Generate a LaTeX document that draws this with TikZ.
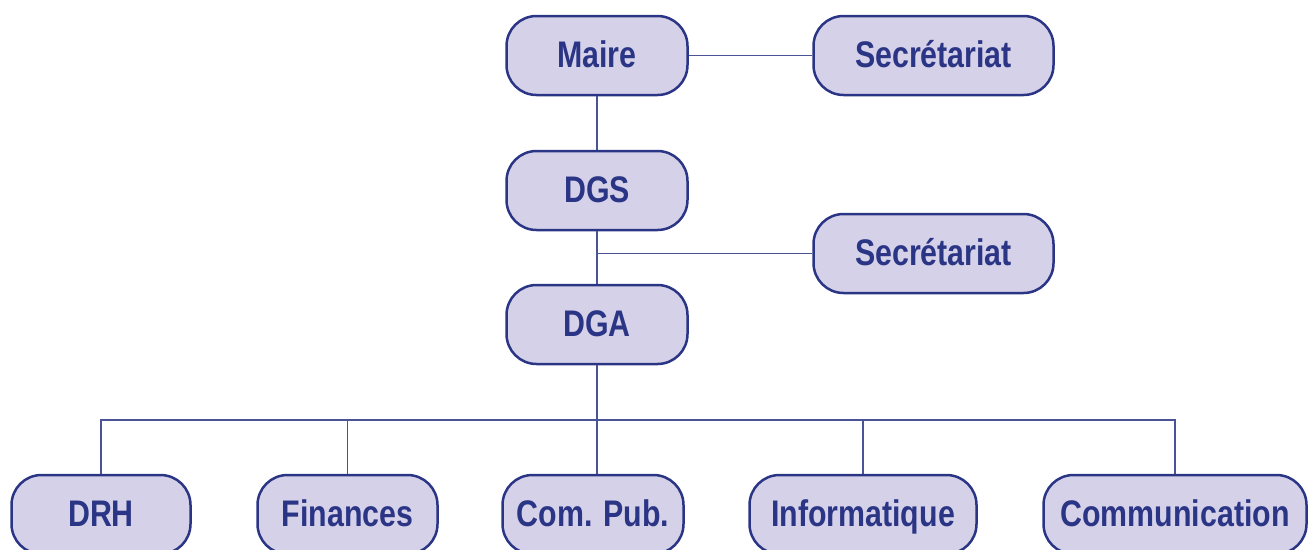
\documentclass[tikz,border=0pt]{standalone}
\usepackage{fontspec}
\setmainfont{Liberation Sans}[FakeStretch=0.82]
\definecolor{boxline}{HTML}{2B3585}
\definecolor{boxfill}{HTML}{D5D1E8}
\definecolor{linkc}{HTML}{4A5396}
\begin{document}
\begin{tikzpicture}[x=1pt,y=-1pt,
  box/.style={draw=boxline, fill=boxfill, line width=2.5pt, rounded corners=30pt,
    minimum height=79pt, inner sep=0pt, text=boxline, text height=26pt, text depth=2pt,
    font=\fontsize{37}{40}\selectfont\bfseries},
  link/.style={draw=linkc, line width=1.4pt}]
\useasboundingbox (0,0) rectangle (1314,549);
\node[box, minimum width=181pt] (maire) at (597,55.5) {Maire};
\node[box, minimum width=240pt] (sec1) at (933.5,55.5) {Secrétariat};
\node[box, minimum width=181pt] (dgs) at (597,190.5) {DGS};
\node[box, minimum width=240pt] (sec2) at (933.5,253.5) {Secrétariat};
\node[box, minimum width=181pt] (dga) at (597,324.5) {DGA};
\node[box, minimum width=179pt] (drh) at (101,514.5) {DRH};
\node[box, minimum width=180pt] (fin) at (347.5,514.5) {Finances};
\node[box, minimum width=181pt] (compub) at (593,514.5) {Com. Pub.};
\node[box, minimum width=227pt] (info) at (863,514.5) {Informatique};
\node[box, minimum width=263pt] (comm) at (1175,514.5) {Communication};
\coordinate (bus) at (597,420);
\draw[link] (maire.east) -- (sec1.west);
\draw[link] (maire.south) -- (dgs.north);
\draw[link] (dgs.south) -- (dga.north);
\draw[link] (sec2.west) -- (sec2.west -| dgs.south);
\draw[link] (dga.south) -- (compub.north -| dga.south);
\draw[link] (drh.north) |- (bus) -| (comm.north);
\draw[link] (fin.north) -- (fin.north |- bus);
\draw[link] (info.north) -- (info.north |- bus);
\end{tikzpicture}
\end{document}
